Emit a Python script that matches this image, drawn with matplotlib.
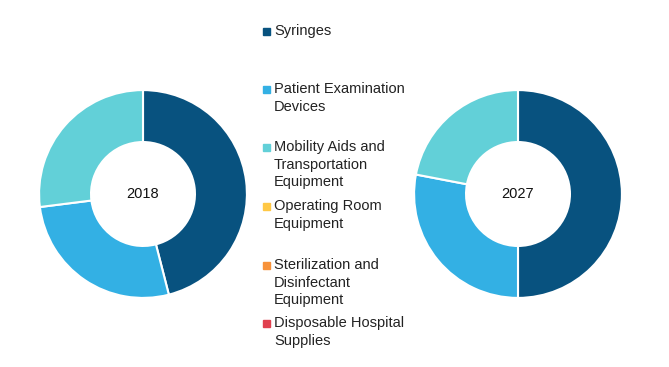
import matplotlib
matplotlib.use('Agg')
import matplotlib.pyplot as plt
from matplotlib.patches import Rectangle

plt.rcParams['font.family'] = ['Liberation Sans', 'DejaVu Sans']

categories = ['Syringes', 'Patient Examination\nDevices',
              'Mobility Aids and\nTransportation\nEquipment',
              'Operating Room\nEquipment',
              'Sterilization and\nDisinfectant\nEquipment',
              'Disposable Hospital\nSupplies']
colors = ['#08527f', '#33b0e4', '#62d0d8', '#ffc845', '#f7923a', '#e0404f']
years = ['2018', '2027']
share_2018 = [46, 27, 27, 0, 0, 0]
share_2027 = [50, 28, 22, 0, 0, 0]

W, H = 669, 367
fig = plt.figure(figsize=(W / 100, H / 100), dpi=100)


def donut(cx, cy, r, values, year):
    ax = fig.add_axes([(cx - r) / W, (H - cy - r) / H, 2 * r / W, 2 * r / H])
    vals = [v for v in values if v > 0]
    cols = [c for v, c in zip(values, colors) if v > 0]
    ax.pie(vals, colors=cols, startangle=90, counterclock=False, radius=1,
           wedgeprops=dict(width=0.5, edgecolor='white', linewidth=1.5))
    ax.text(0, 0, year, ha='center', va='center', fontsize=10.5, color='#111111')
    ax.set_xlim(-1.02, 1.02)
    ax.set_ylim(-1.02, 1.02)
    ax.set_aspect('equal')
    ax.axis('off')


donut(143, 194, 106, share_2018, years[0])
donut(518, 194, 106, share_2027, years[1])

# legend in the middle
row_y = [31, 89, 147, 206, 265, 323]
for lab, col, y in zip(categories, colors, row_y):
    fig.patches.append(Rectangle((263 / W, (H - y - 3.5) / H), 7 / W, 7 / H,
                                 transform=fig.transFigure, color=col))
    fig.text(274 / W, (H - y + 7) / H, lab, ha='left', va='top',
             fontsize=10.5, color='#222222', linespacing=1.32)

fig.savefig('out.png', dpi=100)
